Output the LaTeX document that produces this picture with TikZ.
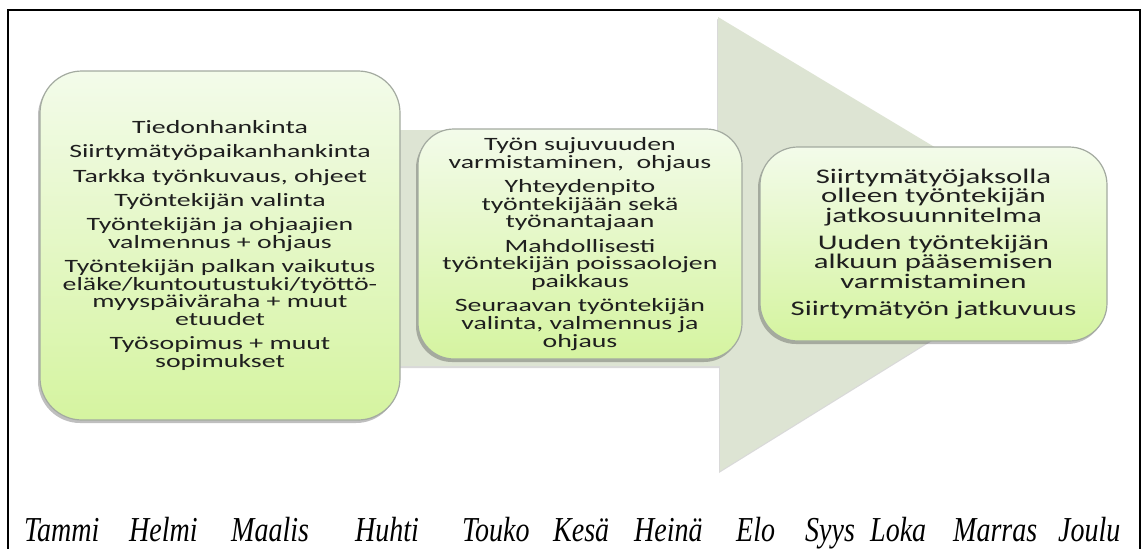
\documentclass[tikz,border=0pt]{standalone}
\usepackage{fontspec}
\usetikzlibrary{shadows}
\newfontfamily\bx{Carlito}[FakeStretch=1.48]
\newfontfamily\mo{Liberation Serif}[FakeStretch=0.8]
\definecolor{arrowc}{HTML}{DDE4D3}
\definecolor{boxtop}{HTML}{F3FBEA}
\definecolor{boxbot}{HTML}{D5F4A0}
\definecolor{boxline}{HTML}{A3AAA0}
\tikzset{
  stage/.style={draw=boxline, line width=1.2pt, top color=boxtop, bottom color=boxbot,
    align=center, text=black!88, inner sep=0pt,
    drop shadow={shadow xshift=-2pt, shadow yshift=-3pt, opacity=0.25, fill=black}},
  small/.style={font=\bx\fontsize{18.8}{17.7}\selectfont},
  large/.style={font=\bx\fontsize{20.8}{19.5}\selectfont},
  month/.style={anchor=base west, inner sep=0pt, font=\mo\itshape\fontsize{35}{35}\selectfont},
  frame/.style={line width=2pt, draw=black}
}
\begin{document}
\begin{tikzpicture}[x=1pt,y=-1pt]
\useasboundingbox (0,0) rectangle (1144,549);
\fill[white] (0,0) rectangle (1144,549);
% frame
\draw[frame] (8,555) -- (8,10) -- (1140,10) -- (1140,555);
% big arrow
\fill[arrowc, drop shadow={shadow xshift=-1pt, shadow yshift=-2pt, opacity=0.15, fill=black}]
  (60,130) -- (718,130) -- (718,17) -- (1091,241) -- (720,471) -- (720,366) -- (60,366) -- cycle;
% stages
\node[stage, small, rounded corners=42pt, minimum width=360pt, minimum height=349pt] (box1) at (220,245.5)
 {Tiedonhankinta\\[6.5pt]
  Siirtymätyöpaikanhankinta\\[6.5pt]
  Tarkka työnkuvaus, ohjeet\\[6.5pt]
  Työntekijän valinta\\[6.5pt]
  Työntekijän ja ohjaajien\\
  valmennus + ohjaus\\[6.5pt]
  Työntekijän palkan vaikutus\\
  eläke/kuntoutustuki/työttö-\\
  myyspäiväraha + muut\\
  etuudet\\[6.5pt]
  Työsopimus + muut\\
  sopimukset};
\node[stage, small, rounded corners=36pt, minimum width=324pt, minimum height=230pt] (box2) at (580,244)
 {Työn sujuvuuden\\
  varmistaminen,\ \ ohjaus\\[6.5pt]
  Yhteydenpito\\
  työntekijään sekä\\
  työnantajaan\\[6.5pt]
  Mahdollisesti\\
  työntekijän poissaolojen\\
  paikkaus\\[6.5pt]
  Seuraavan työntekijän\\
  valinta, valmennus ja\\
  ohjaus};
\node[stage, large, rounded corners=38pt, minimum width=347pt, minimum height=194pt] (box3) at (933.5,244)
 {Siirtymätyöjaksolla\\
  olleen työntekijän\\
  jatkosuunnitelma\\[7.5pt]
  Uuden työntekijän\\
  alkuun pääsemisen\\
  varmistaminen\\[7.5pt]
  Siirtymätyön jatkuvuus};
% months
\node[month] (m1) at (24,541) {Tammi};
\node[month] (m2) at (129,541) {Helmi};
\node[month] (m3) at (231,541) {Maalis};
\node[month] (m4) at (355,541) {Huhti};
\node[month] (m5) at (462,541) {Touko};
\node[month] (m6) at (553,541) {Kesä};
\node[month] (m7) at (634,541) {Heinä};
\node[month] (m8) at (736,541) {Elo};
\node[month] (m9) at (805,541) {Syys};
\node[month] (m10) at (870,541) {Loka};
\node[month] (m11) at (953,541) {Marras};
\node[month] (m12) at (1058,541) {Joulu};
\end{tikzpicture}
\end{document}
